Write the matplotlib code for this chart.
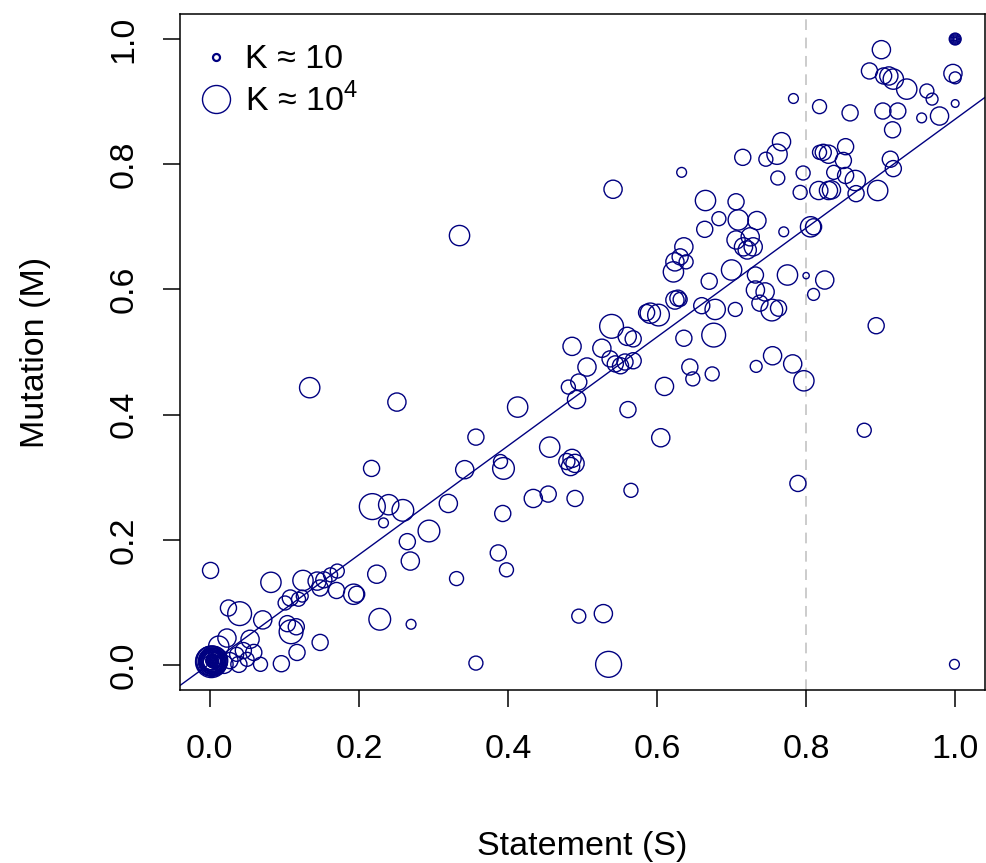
import numpy as np
import matplotlib.pyplot as plt
from matplotlib.lines import Line2D
from matplotlib.ticker import FormatStrFormatter

plt.rcParams['font.family'] = ['Liberation Sans', 'DejaVu Sans']
plt.rcParams['mathtext.fontset'] = 'custom'
plt.rcParams['mathtext.rm'] = 'Liberation Sans'

# statement share (S), mutation share (M) and log10 of K for each item
statement = [
    1.0, 1.0, 1.0, 1.0, 1.0, 1.0,
    0.901, 0.885, 0.904, 0.911, 0.917, 0.935, 0.962, 0.969, 0.997, 1.0,
    1.0, 0.979, 0.955, 0.903, 0.923, 0.916, 0.859, 0.818, 0.783, 0.767,
    0.761, 0.746, 0.715, 0.633, 0.541, 0.762, 0.796, 0.818, 0.823, 0.830,
    0.853, 0.850, 0.837, 0.853, 0.866, 0.792, 0.817, 0.830, 0.834, 0.867,
    0.896, 0.913, 0.917, 0.665, 0.706, 0.683, 0.709, 0.734, 0.664, 0.770,
    0.806, 0.810, 0.706, 0.725, 0.716, 0.729, 0.721, 0.636, 0.631, 0.624,
    0.639, 0.622, 0.700, 0.732, 0.775, 0.800, 0.825, 0.810, 0.670, 0.628,
    0.631, 0.624, 0.732, 0.745, 0.738, 0.754, 0.763, 0.660, 0.678, 0.705,
    0.591, 0.602, 0.586, 0.539, 0.560, 0.568, 0.526, 0.636, 0.676, 0.755,
    0.894,
    0.486, 0.537, 0.544, 0.551, 0.557, 0.568, 0.506, 0.495, 0.492, 0.481,
    0.644, 0.648, 0.674, 0.610, 0.733, 0.782, 0.797, 0.561, 0.605, 0.878,
    0.565, 0.789, 0.495, 0.528, 0.535, 0.999,
    0.335,
    0.134, 0.251, 0.413, 0.357, 0.456, 0.394, 0.390, 0.342, 0.479, 0.486,
    0.484, 0.490, 0.217, 0.320, 0.434, 0.454, 0.490, 0.393, 0.218, 0.240,
    0.259, 0.233, 0.294, 0.265, 0.269, 0.387, 0.398, 0.224, 0.331, 0.001,
    0.228, 0.270, 0.357, 0.125, 0.082, 0.153, 0.162, 0.171, 0.144, 0.148,
    0.170, 0.193, 0.197, 0.108, 0.101, 0.119, 0.124, 0.025, 0.040, 0.071,
    0.104, 0.109, 0.116, 0.148, 0.117, 0.096, 0.068, 0.023, 0.054, 0.045,
    0.059, 0.036, 0.050, 0.027, 0.039, 0.019, 0.012,
    # items piled up at the origin
    0.003, 0.003, 0.002, 0.004, 0.003, 0.002, 0.004, 0.003, 0.002, 0.004,
    0.003, 0.005, 0.001, 0.006, 0.000, 0.003, 0.002, 0.004, 0.003, 0.002,
    0.004, 0.003, 0.002, 0.004, 0.003, 0.005, 0.001, 0.003, 0.002,
]
mutation = [
    1.0, 1.0, 1.0, 1.0, 1.0, 1.0,
    0.983, 0.949, 0.941, 0.941, 0.936, 0.920, 0.917, 0.904, 0.945, 0.938,
    0.897, 0.877, 0.874, 0.885, 0.885, 0.855, 0.882, 0.892, 0.905, 0.836,
    0.816, 0.808, 0.811, 0.787, 0.760, 0.778, 0.786, 0.819, 0.819, 0.816,
    0.828, 0.806, 0.787, 0.782, 0.774, 0.755, 0.758, 0.758, 0.759, 0.753,
    0.758, 0.808, 0.793, 0.742, 0.740, 0.713, 0.711, 0.710, 0.696, 0.692,
    0.700, 0.700, 0.679, 0.684, 0.668, 0.668, 0.663, 0.668, 0.652, 0.644,
    0.644, 0.628, 0.631, 0.623, 0.623, 0.622, 0.615, 0.592, 0.613, 0.586,
    0.584, 0.583, 0.599, 0.596, 0.578, 0.567, 0.570, 0.574, 0.568, 0.568,
    0.562, 0.559, 0.563, 0.541, 0.525, 0.521, 0.506, 0.522, 0.527, 0.494,
    0.542,
    0.509, 0.489, 0.481, 0.478, 0.484, 0.486, 0.476, 0.452, 0.424, 0.444,
    0.476, 0.457, 0.465, 0.445, 0.477, 0.481, 0.454, 0.408, 0.363, 0.375,
    0.279, 0.290, 0.078, 0.082, 0.001, 0.001,
    0.686,
    0.443, 0.420, 0.412, 0.364, 0.348, 0.314, 0.325, 0.312, 0.325, 0.330,
    0.317, 0.322, 0.314, 0.258, 0.266, 0.273, 0.266, 0.242, 0.253, 0.256,
    0.247, 0.227, 0.214, 0.197, 0.166, 0.179, 0.152, 0.145, 0.138, 0.151,
    0.073, 0.065, 0.003, 0.135, 0.132, 0.136, 0.144, 0.150, 0.134, 0.123,
    0.119, 0.113, 0.113, 0.107, 0.099, 0.105, 0.110, 0.091, 0.082, 0.072,
    0.066, 0.053, 0.061, 0.036, 0.020, 0.002, 0.001, 0.043, 0.041, 0.023,
    0.020, 0.017, 0.009, 0.007, 0.001, 0.001, 0.030,
    0.006, 0.007, 0.005, 0.006, 0.007, 0.006, 0.005, 0.007, 0.006, 0.005,
    0.007, 0.006, 0.004, 0.008, 0.006, 0.006, 0.007, 0.005, 0.006, 0.007,
    0.006, 0.005, 0.007, 0.006, 0.005, 0.007, 0.006, 0.006, 0.005,
]
log_k = [
    0.4, 0.6, 0.9, 1.2, 1.5, 1.7,
    2.6, 2.3, 2.3, 2.6, 2.9, 2.9, 2.0, 1.7, 2.6, 1.7,
    1.1, 2.6, 1.4, 2.3, 2.3, 2.3, 2.3, 2.0, 1.4, 2.6,
    2.9, 2.0, 2.3, 1.4, 2.6, 2.0, 2.0, 2.0, 2.3, 2.6,
    2.3, 2.3, 2.0, 2.3, 2.9, 2.0, 2.6, 2.6, 2.6, 2.3,
    2.9, 2.3, 2.3, 2.9, 2.3, 2.0, 2.9, 2.6, 2.3, 1.4,
    2.9, 2.3, 2.6, 2.6, 2.6, 2.6, 2.6, 2.6, 2.3, 2.6,
    2.0, 2.9, 2.9, 2.3, 2.9, 0.9, 2.6, 1.7, 2.3, 2.3,
    2.0, 2.6, 2.6, 2.6, 2.3, 3.1, 2.3, 2.3, 2.9, 2.0,
    2.9, 3.1, 2.3, 3.4, 2.6, 2.3, 2.6, 2.3, 3.4, 2.6,
    2.3,
    2.6, 2.3, 2.3, 2.3, 2.3, 2.3, 2.6, 2.3, 2.6, 2.0,
    2.3, 2.0, 2.0, 2.6, 1.7, 2.6, 2.9, 2.3, 2.6, 2.0,
    2.0, 2.3, 2.0, 2.6, 3.7, 1.4,
    2.9,
    2.9, 2.6, 2.9, 2.3, 2.9, 3.1, 2.0, 2.6, 2.3, 2.6,
    2.6, 2.6, 2.3, 2.6, 2.6, 2.3, 2.3, 2.3, 3.7, 2.9,
    3.1, 1.4, 3.1, 2.3, 2.6, 2.3, 2.0, 2.6, 2.0, 2.3,
    3.1, 1.4, 2.0, 2.9, 2.9, 2.3, 2.0, 2.0, 2.6, 2.3,
    2.3, 2.9, 2.3, 2.3, 2.0, 2.0, 1.7, 2.3, 3.4, 2.6,
    2.3, 3.4, 2.3, 2.3, 2.3, 2.3, 2.0, 2.6, 2.6, 2.3,
    2.3, 2.0, 2.0, 2.3, 2.3, 2.6, 2.9,
    0.3, 0.45, 0.6, 0.75, 0.9, 1.05, 1.2, 1.35, 1.5, 1.65,
    1.8, 1.95, 2.1, 2.25, 2.4, 2.55, 2.7, 2.85, 3.0, 3.15,
    3.3, 3.45, 3.6, 3.75, 3.9, 4.05, 4.2, 4.35, 4.5,
]

fit_intercept = 0.002
fit_slope = 0.87
s_cutoff = 0.8

NAVY = '#000080'
FS = 24.5


def marker_area(lk):
    # circle radius in pixels grows with log10(K)
    r_px = 3.5 * np.asarray(lk)
    return (2 * r_px * 72 / 100) ** 2


fig = plt.figure(figsize=(9.87, 8.63), dpi=100)
ax = fig.add_axes([180 / 987, 173 / 863, 805 / 987, 676 / 863])

ax.axvline(s_cutoff, color='#BEBEBE', lw=1.1, ls=(0, (7, 5)), zorder=1)
ax.axline((0, fit_intercept), slope=fit_slope, color=NAVY, lw=1.0, zorder=2)
ax.scatter(statement, mutation, s=marker_area(log_k), facecolors='none',
           edgecolors=NAVY, linewidths=1.0, zorder=3)

ax.set_xlim(-0.04, 1.04)
ax.set_ylim(-0.04, 1.04)
ticks = np.arange(0, 1.01, 0.2)
ax.set_xticks(ticks)
ax.set_yticks(ticks)
ax.xaxis.set_major_formatter(FormatStrFormatter('%.1f'))
ax.yaxis.set_major_formatter(FormatStrFormatter('%.1f'))
ax.tick_params(length=12, width=1.1, labelsize=FS, colors='black')
ax.tick_params(axis='x', pad=20)
ax.tick_params(axis='y', pad=17)
for lab in ax.get_yticklabels():
    lab.set_rotation(90)
    lab.set_va('center')
for sp in ax.spines.values():
    sp.set_linewidth(1.1)

ax.set_xlabel('Statement (S)', fontsize=FS)
ax.set_ylabel('Mutation (M)', fontsize=FS)
ax.xaxis.label.set_va('center')
ax.yaxis.label.set_va('center')
ax.xaxis.set_label_coords(0.5, (690 - 846) / 676)
ax.yaxis.set_label_coords((36 - 180) / 805, 0.5)

handles = [
    Line2D([], [], ls='none', marker='o', mfc='none', mec=NAVY, mew=1.6,
           ms=2 * 3.5 * 1 * 0.72),
    Line2D([], [], ls='none', marker='o', mfc='none', mec=NAVY, mew=1.0,
           ms=2 * 3.5 * 4 * 0.72),
]
ax.legend(handles, ['K ≈ 10', 'K ≈ 10$^4$'], loc='upper left',
          bbox_to_anchor=(0, 1 - 10 / 676), frameon=False, fontsize=FS,
          handlelength=0.9, handletextpad=0.4, labelspacing=0.22,
          borderaxespad=0.3, borderpad=0.3)

fig.savefig('out.png', dpi=100)
